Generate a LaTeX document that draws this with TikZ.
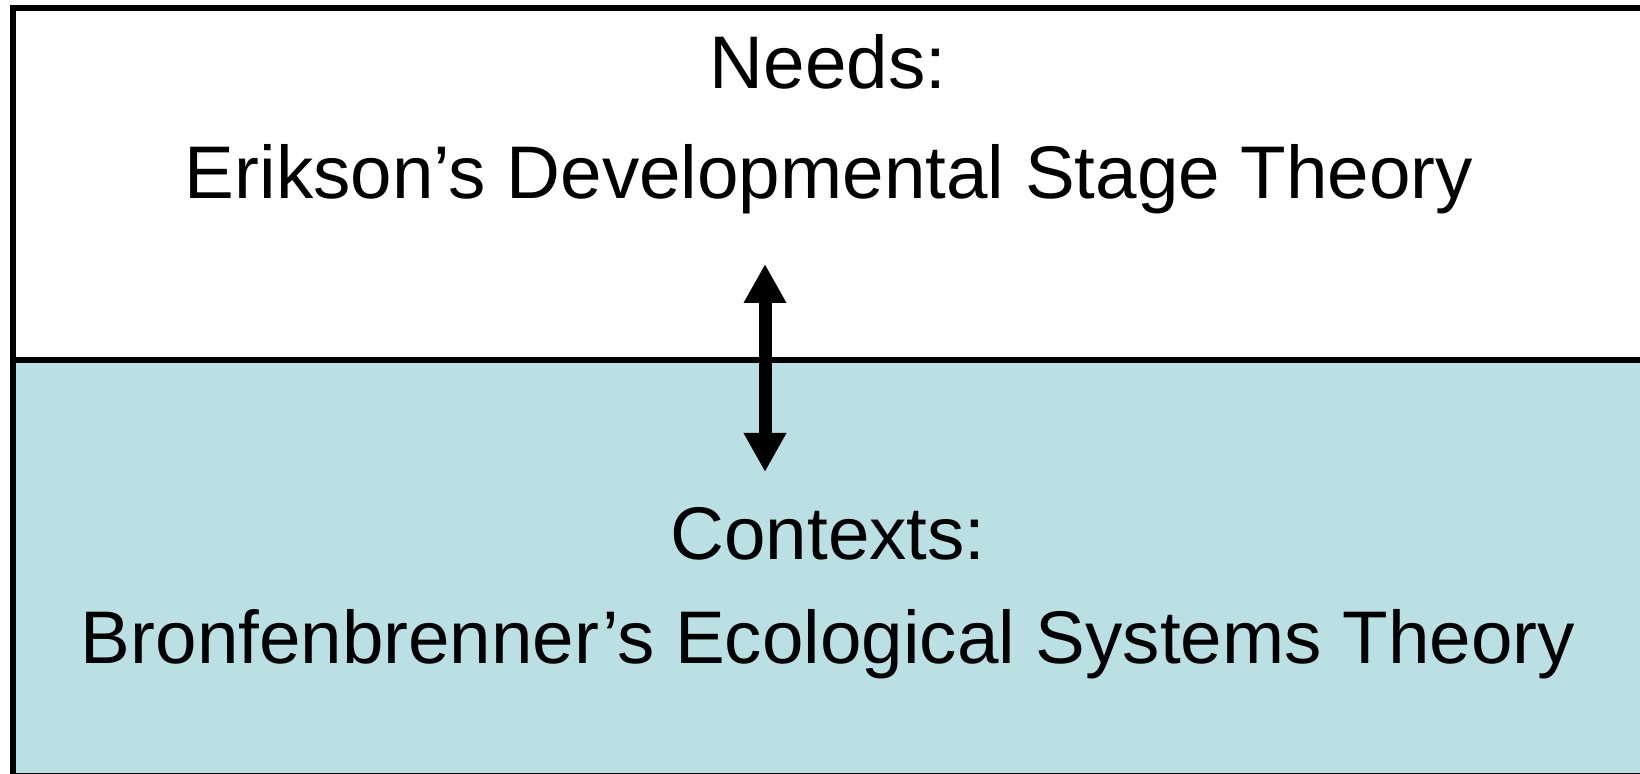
\documentclass[tikz,border=0pt]{standalone}
\usepackage{fontspec}
\setmainfont{Liberation Sans}
\usetikzlibrary{arrows.meta}
\definecolor{panelblue}{HTML}{BBE0E3}
\tikzset{
  frame/.style={draw=black, line width=3pt},
  label/.style={anchor=base, inner sep=0pt, font=\fontsize{37.3pt}{44pt}\selectfont},
  link/.style={line width=6.5pt, {Triangle[length=19.5pt,width=20pt]}-{Triangle[length=19.5pt,width=20pt]}}
}
\begin{document}
\begin{tikzpicture}[x=0.5pt,y=-0.5pt]
\useasboundingbox (0,0) rectangle (1640,774);
\clip (0,0) rectangle (1640,774);
\fill[white] (0,0) rectangle (1640,774);
% panels
\fill[panelblue] (13,360) rectangle (1700,776);
\draw[frame] (13,8) rectangle (1700,776);
\draw[frame] (13,360) -- (1700,360);
% texts
\node[label] (needs) at (828,89) {Needs:};
\node[label] (erikson) at (829,199) {Erikson’s Developmental Stage Theory};
\node[label] (contexts) at (828,560) {Contexts:};
\node[label] (bronf) at (828,664) {Bronfenbrenner’s Ecological Systems Theory};
% arrow
\coordinate (atop) at (765,264);
\coordinate (abot) at (765,472);
\draw[link] (atop) -- (abot);
\end{tikzpicture}
\end{document}
